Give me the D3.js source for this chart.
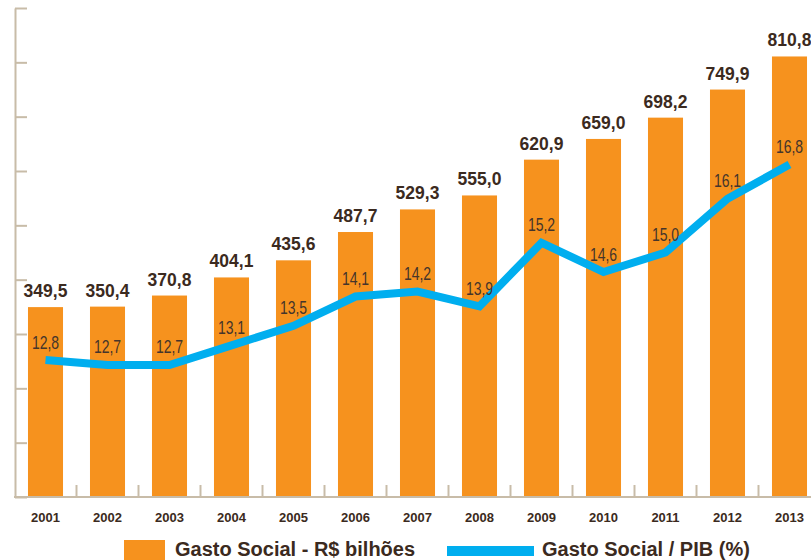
<!DOCTYPE html>
<html><head><meta charset="utf-8">
<script src="https://cdn.jsdelivr.net/npm/d3@7"></script>
<style>
html,body{margin:0;padding:0;background:#fff;}
svg{display:block;}
</style></head>
<body>
<svg id="chart" width="811" height="560"></svg>
<script>
const years = ["2001","2002","2003","2004","2005","2006","2007","2008","2009","2010","2011","2012","2013"];
const gastoSocial = [349.5,350.4,370.8,404.1,435.6,487.7,529.3,555.0,620.9,659.0,698.2,749.9,810.8];
const gastoPIB = [12.8,12.7,12.7,13.1,13.5,14.1,14.2,13.9,15.2,14.6,15.0,16.1,16.8];
const yTicks = [0,100,200,300,400,500,600,700,800,900];
const legendLabels = ["Gasto Social - R$ bilhões","Gasto Social / PIB (%)"];

const fmt = v => v.toFixed(1).replace(".", ",");
const orange = "#F6921E", blue = "#00AEEF", textCol = "#3b2a20", axisCol = "#c8bca8";
const narrow = 0.8;

const svg = d3.select("#chart");
const x = d3.scaleBand().domain(years).range([14.5, 820.5]).paddingInner(0.435).paddingOuter(0.2175);
const y = d3.scaleLinear().domain([0, 900]).range([497, 8]);
const y2 = d3.scaleLinear().domain([10, 20]).range([497, 8]);
const cx = d => x(d) + x.bandwidth()/2;

// bars
svg.append("g").selectAll("rect").data(years).join("rect")
  .attr("x", d => x(d)).attr("width", x.bandwidth())
  .attr("y", (d,i) => y(gastoSocial[i])).attr("height", (d,i) => y(0) - y(gastoSocial[i]))
  .attr("fill", orange);

// left axis
const ax = svg.append("g").attr("transform", "translate(15,0)")
  .call(d3.axisLeft(y).tickValues(yTicks).tickSize(-12).tickSizeOuter(0).tickFormat(""));
ax.selectAll("path,line").attr("stroke", axisCol).attr("stroke-width", 2);

// bottom axis
const bx = svg.append("g");
bx.append("line").attr("x1", 14).attr("x2", 811).attr("y1", y(0)).attr("y2", y(0))
  .attr("stroke", axisCol).attr("stroke-width", 2);
const half = x.step() * x.paddingInner() / 2;
bx.selectAll("line.t").data(years.slice(1)).join("line").attr("class","t")
  .attr("x1", d => x(d) - half).attr("x2", d => x(d) - half)
  .attr("y1", y(0)).attr("y2", y(0) - 12)
  .attr("stroke", axisCol).attr("stroke-width", 2);
bx.selectAll("text").data(years).join("text")
  .attr("x", cx).attr("y", 521.5)
  .attr("text-anchor", "middle").attr("fill", textCol)
  .attr("font-family", "Liberation Sans, Arial, sans-serif").attr("font-weight", "bold").attr("font-size", 13)
  .text(d => d);

// bar labels
svg.append("g").selectAll("text").data(years).join("text")
  .attr("x", cx).attr("y", (d,i) => y(gastoSocial[i]) - 10)
  .attr("text-anchor", "middle").attr("fill", textCol)
  .attr("font-family", "Liberation Sans, Arial, sans-serif").attr("font-weight", "bold").attr("font-size", 17.5)
  .text((d,i) => fmt(gastoSocial[i]));

// line
const line = d3.line().x((d,i) => cx(years[i])).y(d => y2(d));
svg.append("path").datum(gastoPIB).attr("d", line)
  .attr("fill", "none").attr("stroke", blue).attr("stroke-width", 8);

// line labels (condensed)
svg.append("g").selectAll("text").data(gastoPIB).join("text")
  .attr("transform", (d,i) => `translate(${cx(years[i])},${y2(d) - 11.5}) scale(${narrow},1)`)
  .attr("text-anchor", "middle").attr("fill", "#45352b")
  .attr("font-family", "Liberation Sans, Arial, sans-serif").attr("font-size", 17.5)
  .text(d => fmt(d));

// legend
const lg = svg.append("g");
lg.append("rect").attr("x", 124).attr("y", 540).attr("width", 41).attr("height", 20).attr("fill", orange);
lg.append("text").attr("x", 175).attr("y", 556).attr("fill", textCol)
  .attr("font-family", "Liberation Sans, Arial, sans-serif")
  .attr("font-weight", "bold").attr("font-size", 20).text(legendLabels[0]);
lg.append("rect").attr("x", 447).attr("y", 546).attr("width", 87).attr("height", 10).attr("fill", blue);
lg.append("text").attr("x", 542).attr("y", 556).attr("fill", textCol)
  .attr("font-family", "Liberation Sans, Arial, sans-serif")
  .attr("font-weight", "bold").attr("font-size", 20).text(legendLabels[1]);
</script>
</body></html>
